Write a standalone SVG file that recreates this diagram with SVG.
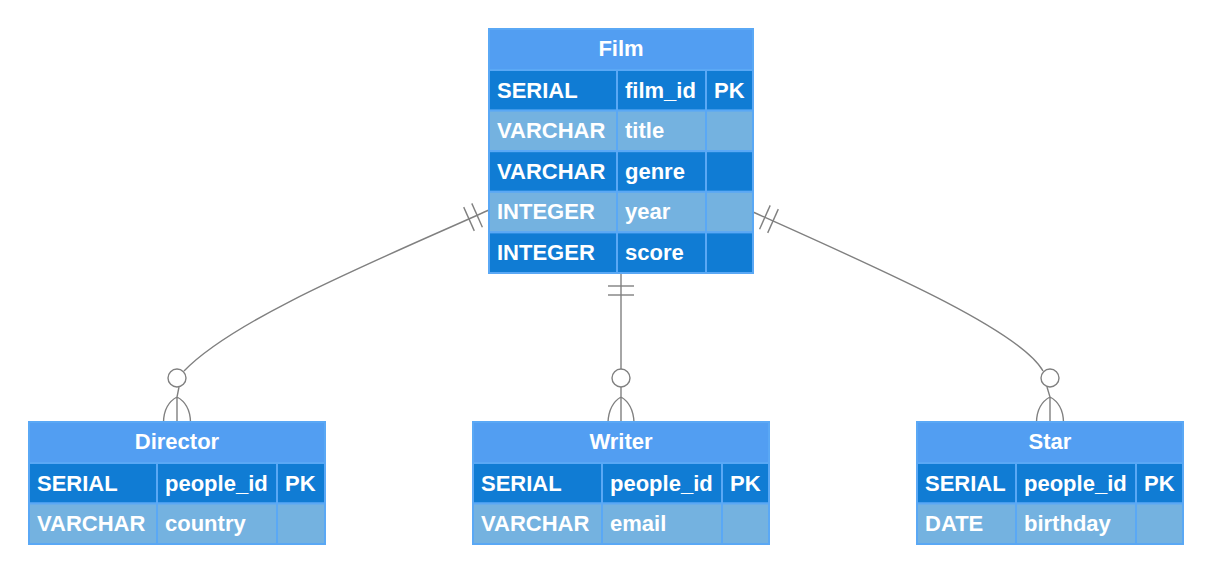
<svg xmlns="http://www.w3.org/2000/svg" width="1212" height="574" viewBox="0 0 1212 574">
<style>
.hdr{fill:#529EF2;stroke:#5AA8F5;stroke-width:2}
.dk{fill:#107CD4;stroke:#5AA8F5;stroke-width:2}
.lt{fill:#74B2E0;stroke:#5AA8F5;stroke-width:2}
.t{font-family:"Liberation Sans",Arial,sans-serif;font-size:22px;font-weight:bold;fill:#FFFFFF}
.c{text-anchor:middle}
.ln{fill:none;stroke:#808080;stroke-width:1.4}
</style>
<rect width="1212" height="574" fill="#FFFFFF"/>
<g id="connectors" class="ln">
  <!-- Film to Director -->
  <path d="M489,210 C380,259 235,318 184,371"/>
  <line x1="471.8" y1="203.4" x2="482.4" y2="227.2"/>
  <line x1="463.7" y1="207.1" x2="474.3" y2="230.9"/>
  <circle cx="177" cy="378" r="9" fill="#FFFFFF"/>
  <path d="M179,387 L177,397 L177,422 M177,397 Q164,404 163.5,422 M177,397 Q190,404 190.5,422"/>
  <!-- Film to Writer -->
  <path d="M621,273 L621,369"/>
  <line x1="608" y1="286" x2="634" y2="286"/>
  <line x1="608" y1="295" x2="634" y2="295"/>
  <circle cx="621" cy="378" r="9" fill="#FFFFFF"/>
  <path d="M621,387 L621,422 M621,397 Q609,404 608,422 M621,397 Q633,404 634,422"/>
  <!-- Film to Star -->
  <path d="M753,212 C880,269 1020,330 1043,371"/>
  <line x1="770.2" y1="205.4" x2="759.6" y2="229.2"/>
  <line x1="778.3" y1="209.1" x2="767.7" y2="232.9"/>
  <circle cx="1050" cy="378" r="9" fill="#FFFFFF"/>
  <path d="M1047,387 L1050,397 L1050,422 M1050,397 Q1037,404 1036.5,422 M1050,397 Q1063,404 1063.5,422"/>
</g>
<g id="film">
  <rect class="hdr" x="489" y="29" width="264" height="41"/>
  <text class="t c" x="621" y="56">Film</text>
  <rect class="dk" x="489" y="70" width="128" height="40.6"/><rect class="dk" x="617" y="70" width="89" height="40.6"/><rect class="dk" x="706" y="70" width="47" height="40.6"/>
  <rect class="lt" x="489" y="110.6" width="128" height="40.6"/><rect class="lt" x="617" y="110.6" width="89" height="40.6"/><rect class="lt" x="706" y="110.6" width="47" height="40.6"/>
  <rect class="dk" x="489" y="151.2" width="128" height="40.6"/><rect class="dk" x="617" y="151.2" width="89" height="40.6"/><rect class="dk" x="706" y="151.2" width="47" height="40.6"/>
  <rect class="lt" x="489" y="191.8" width="128" height="40.6"/><rect class="lt" x="617" y="191.8" width="89" height="40.6"/><rect class="lt" x="706" y="191.8" width="47" height="40.6"/>
  <rect class="dk" x="489" y="232.4" width="128" height="40.6"/><rect class="dk" x="617" y="232.4" width="89" height="40.6"/><rect class="dk" x="706" y="232.4" width="47" height="40.6"/>
  <text class="t" x="497" y="97.5">SERIAL</text><text class="t" x="625" y="97.5">film_id</text><text class="t" x="714" y="97.5">PK</text>
  <text class="t" x="497" y="138">VARCHAR</text><text class="t" x="625" y="138">title</text>
  <text class="t" x="497" y="178.7">VARCHAR</text><text class="t" x="625" y="178.7">genre</text>
  <text class="t" x="497" y="219.3">INTEGER</text><text class="t" x="625" y="219.3">year</text>
  <text class="t" x="497" y="259.9">INTEGER</text><text class="t" x="625" y="259.9">score</text>
</g>
<g id="director">
  <rect class="hdr" x="29" y="422" width="296" height="41"/>
  <text class="t c" x="177" y="449">Director</text>
  <rect class="dk" x="29" y="463" width="128" height="40.5"/><rect class="dk" x="157" y="463" width="120" height="40.5"/><rect class="dk" x="277" y="463" width="48" height="40.5"/>
  <rect class="lt" x="29" y="503.5" width="128" height="40.5"/><rect class="lt" x="157" y="503.5" width="120" height="40.5"/><rect class="lt" x="277" y="503.5" width="48" height="40.5"/>
  <text class="t" x="37" y="490.5">SERIAL</text><text class="t" x="165" y="490.5">people_id</text><text class="t" x="285" y="490.5">PK</text>
  <text class="t" x="37" y="531">VARCHAR</text><text class="t" x="165" y="531">country</text>
</g>
<g id="writer">
  <rect class="hdr" x="473" y="422" width="296" height="41"/>
  <text class="t c" x="621" y="449">Writer</text>
  <rect class="dk" x="473" y="463" width="129" height="40.5"/><rect class="dk" x="602" y="463" width="120" height="40.5"/><rect class="dk" x="722" y="463" width="47" height="40.5"/>
  <rect class="lt" x="473" y="503.5" width="129" height="40.5"/><rect class="lt" x="602" y="503.5" width="120" height="40.5"/><rect class="lt" x="722" y="503.5" width="47" height="40.5"/>
  <text class="t" x="481" y="490.5">SERIAL</text><text class="t" x="610" y="490.5">people_id</text><text class="t" x="730" y="490.5">PK</text>
  <text class="t" x="481" y="531">VARCHAR</text><text class="t" x="610" y="531">email</text>
</g>
<g id="star">
  <rect class="hdr" x="917" y="422" width="266" height="41"/>
  <text class="t c" x="1050" y="449">Star</text>
  <rect class="dk" x="917" y="463" width="99" height="40.5"/><rect class="dk" x="1016" y="463" width="120" height="40.5"/><rect class="dk" x="1136" y="463" width="47" height="40.5"/>
  <rect class="lt" x="917" y="503.5" width="99" height="40.5"/><rect class="lt" x="1016" y="503.5" width="120" height="40.5"/><rect class="lt" x="1136" y="503.5" width="47" height="40.5"/>
  <text class="t" x="925" y="490.5">SERIAL</text><text class="t" x="1024" y="490.5">people_id</text><text class="t" x="1144" y="490.5">PK</text>
  <text class="t" x="925" y="531">DATE</text><text class="t" x="1024" y="531">birthday</text>
</g>
</svg>
